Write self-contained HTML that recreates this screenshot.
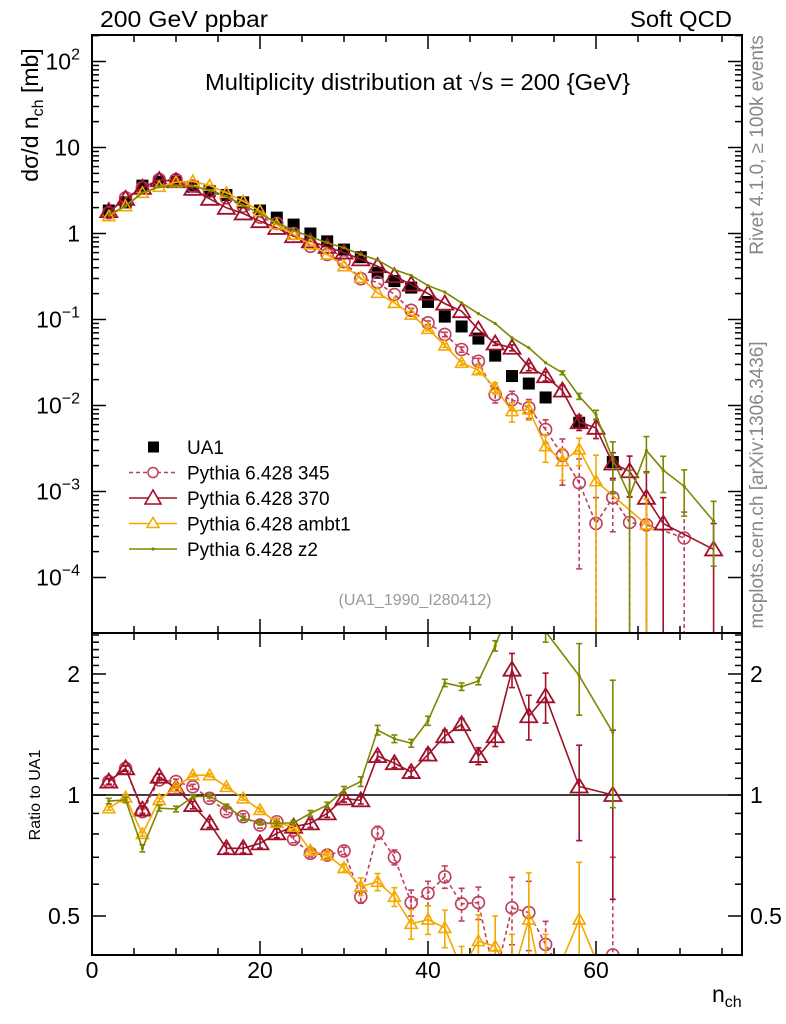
<!DOCTYPE html>
<html><head><meta charset="utf-8">
<style>
html,body{margin:0;padding:0;background:#fff;overflow:hidden;width:786px;height:1024px;}
svg{display:block;font-family:"Liberation Sans",Arial,sans-serif;}
</style></head>
<body>
<svg id="chart" width="786" height="1024" viewBox="0 0 786 1024" xmlns="http://www.w3.org/2000/svg">
  <defs>
    <clipPath id="clipMain"><rect x="92" y="35" width="650" height="598"/></clipPath>
    <clipPath id="clipRatio"><rect x="92" y="633" width="650" height="322"/></clipPath>
  </defs>
  <g id="axes"></g>
  <g id="mainMarks" clip-path="url(#clipMain)"></g>
  <g id="ratioMarks" clip-path="url(#clipRatio)"></g>
  <rect x="92" y="35" width="650" height="598" fill="none" stroke="#000" stroke-width="2"/>
  <rect x="92" y="633" width="650" height="322" fill="none" stroke="#000" stroke-width="2"/>
  <text x="100" y="27" font-size="23" textLength="168" lengthAdjust="spacingAndGlyphs">200 GeV ppbar</text>
  <text x="630" y="27" font-size="23" textLength="102" lengthAdjust="spacingAndGlyphs">Soft QCD</text>
  <text x="205" y="90" font-size="23" textLength="425" lengthAdjust="spacingAndGlyphs">Multiplicity distribution at √s = 200 {GeV}</text>
  <text transform="translate(38,115) rotate(-90)" font-size="23" text-anchor="middle">dσ/d n<tspan font-size="16" dy="5">ch</tspan><tspan dy="-5"> [mb]</tspan></text>
  <text transform="translate(40,795) rotate(-90)" font-size="16" text-anchor="middle">Ratio to UA1</text>
  <text x="712" y="1002" font-size="23">n<tspan font-size="16" dy="5">ch</tspan></text>
  <text transform="translate(763,145) rotate(-90)" font-size="19" fill="#888" text-anchor="middle">Rivet 4.1.0, ≥ 100k events</text>
  <text transform="translate(763,485) rotate(-90)" font-size="19" fill="#888" text-anchor="middle">mcplots.cern.ch [arXiv:1306.3436]</text>
  <text x="415" y="605" font-size="16" fill="#999" text-anchor="middle">(UA1_1990_I280412)</text>
  <g id="legend"></g>
</svg>
<script>
// ---- data ----
const ua1N = [2,4,6,8,10,12,14,16,18,20,22,24,26,28,30,32,34,36,38,40,42,44,46,48,50,52,54,58,62];
const ua1V = [1.85,2.3,3.6,4.0,4.0,3.5,3.1,2.8,2.3,1.85,1.53,1.27,1.0,0.81,0.65,0.53,0.35,0.28,0.235,0.16,0.108,0.083,0.060,0.038,0.022,0.018,0.0124,0.0063,0.0022];

const p345N = [2,4,6,8,10,12,14,16,18,20,22,24,26,28,30,32,34,36,38,40,42,44,46,48,50,52,54,56,58,60,62,64,66,70.5];
const p345V = [1.74,2.60,3.40,4.24,4.24,3.55,3.10,2.60,2.08,1.55,1.31,1.0,0.71,0.57,0.47,0.298,0.271,0.195,0.128,0.0914,0.067,0.0448,0.0327,0.0134,0.0117,0.0094,0.00525,0.00263,0.00126,0.000425,0.00085,0.000436,0.00041,0.000288];
const p345E = [0,0,0,0,0,0,0,0,0,0,0,0,0,0,0.02,0.03,0.03,0.04,0.05,0.05,0.06,0.07,0.08,0.2,0.25,0.25,0.3,0.55,0.9,1,0.6,1,1,1];

const p370N = [2,4,6,8,10,12,14,16,18,20,22,24,26,28,30,32,34,36,38,40,42,44,46,48,50,52,54,56,58,60,62,64,66,68,74];
const p370V = [1.82,2.53,3.40,4.17,4.06,3.31,2.53,1.99,1.71,1.39,1.16,0.93,0.81,0.70,0.60,0.50,0.417,0.319,0.255,0.20,0.153,0.125,0.0765,0.0526,0.0469,0.0282,0.0219,0.0149,0.0064,0.0055,0.00212,0.00172,0.000845,0.000424,0.000212];
const p370E = [0,0,0,0,0,0,0,0,0,0,0,0,0,0,0.01,0.01,0.02,0.02,0.02,0.03,0.03,0.03,0.04,0.05,0.08,0.1,0.12,0.15,0.2,0.25,0.33,0.5,1,1,1];

const pAmbN = [2,4,6,8,10,12,14,16,18,20,22,24,26,28,30,32,34,36,38,40,42,44,46,48,50,52,54,56,58,60,66];
const pAmbV = [1.59,2.08,2.97,3.49,3.95,4.06,3.61,2.97,2.37,1.82,1.27,0.97,0.745,0.57,0.417,0.305,0.204,0.156,0.114,0.0778,0.0499,0.0313,0.0257,0.016,0.0086,0.0090,0.00336,0.00225,0.00308,0.00132,0.000413];
const pAmbE = [0,0,0,0,0,0,0,0,0,0,0,0,0,0,0.01,0.02,0.03,0.03,0.04,0.05,0.05,0.06,0.08,0.15,0.25,0.25,0.35,0.4,0.35,1,1];

const pZ2N = [2,4,6,8,10,12,14,16,18,20,22,24,26,28,30,32,34,36,38,40,42,44,46,48,50,52,54,56,58,60,62,64,66,68,70.5,74];
const pZ2V = [1.66,2.08,2.97,3.49,3.61,3.55,3.19,2.72,2.13,1.71,1.33,1.09,0.915,0.78,0.68,0.57,0.49,0.38,0.325,0.248,0.208,0.156,0.117,0.0898,0.0612,0.0469,0.0314,0.024,0.0128,0.00785,0.00236,0.000883,0.0030,0.00177,0.00115,0.000452];
const pZ2E = [0,0,0,0,0,0,0,0,0,0,0,0,0,0,0.01,0.01,0.02,0.02,0.02,0.02,0.03,0.03,0.03,0.03,0.03,0.04,0.04,0.05,0.08,0.12,0.6,1,0.45,0.45,0.55,0.7];

// ratios to UA1 (at ua1N)
const r345 = [1.08,1.165,0.909,1.09,1.08,1.048,0.981,0.909,0.883,0.842,0.858,0.776,0.716,0.709,0.726,0.558,0.806,0.70,0.54,0.57,0.626,0.536,0.54,0.35,0.524,0.51,0.425,0.2,0.40];
const r345E = [0.015,0.015,0.015,0.015,0.015,0.015,0.015,0.015,0.015,0.015,0.015,0.015,0.015,0.015,0.015,0.02,0.03,0.03,0.04,0.04,0.04,0.05,0.05,0.06,0.1,0.1,0.06,0.2,0.3];
const r370 = [1.08,1.165,0.92,1.11,1.04,0.944,0.85,0.737,0.737,0.758,0.803,0.834,0.85,0.90,0.98,0.97,1.25,1.20,1.14,1.26,1.40,1.50,1.25,1.40,2.05,1.57,1.76,1.05,1.0];
const r370E = [0.02,0.02,0.02,0.02,0.02,0.02,0.02,0.02,0.02,0.02,0.02,0.02,0.02,0.02,0.02,0.02,0.03,0.03,0.03,0.04,0.05,0.05,0.06,0.08,0.2,0.2,0.25,0.28,0.45];
const rAmb = [0.927,0.987,0.80,0.972,1.048,1.12,1.12,1.048,0.981,0.918,0.853,0.834,0.727,0.709,0.658,0.592,0.608,0.558,0.478,0.49,0.467,0.37,0.433,0.42,0.35,0.49,0.3,0.49,0.2];
const rAmbE = [0.01,0.01,0.01,0.01,0.01,0.01,0.01,0.01,0.01,0.01,0.01,0.01,0.01,0.01,0.015,0.03,0.03,0.03,0.04,0.04,0.05,0.05,0.07,0.08,0.1,0.15,0.15,0.19,0.2];
const rZ2 = [0.966,0.972,0.737,0.927,0.923,0.99,0.994,0.939,0.875,0.853,0.85,0.853,0.90,0.944,1.03,1.08,1.45,1.38,1.345,1.53,1.90,1.86,1.92,2.35,3.0,3.2,2.55,1.98,1.43];
const rZ2E = [0.015,0.015,0.015,0.015,0.015,0.01,0.01,0.01,0.01,0.01,0.01,0.01,0.015,0.015,0.02,0.03,0.04,0.03,0.03,0.04,0.04,0.04,0.04,0.07,0.1,0.1,0.15,0.4,0.5];

const xTicks = [0,20,40,60];
const mainDecades = [-4,-3,-2,-1,0,1,2];
const ratioTicks = [0.5,1,2];

// ---- scales ----
function X(n){ return 92 + 8.4*n; }
function Y(v){ return 233.5 - 86*Math.log10(Math.max(v,1e-12)); }
function R(r){ return 795 - 402*Math.log10(Math.max(r,1e-12)); }

const NS = "http://www.w3.org/2000/svg";
function mk(tag, attrs, parent){ const e=document.createElementNS(NS,tag); for(const k in attrs) e.setAttribute(k,attrs[k]); parent.appendChild(e); return e; }

const axes = document.getElementById('axes');
for(let n=5;n<78;n+=5){
  const big = n%20===0;
  const L = big?14:7;
  const t1 = mk('line',{x1:X(n),x2:X(n),y1:35,y2:35+L,stroke:'#000','stroke-width':1.5},axes);
  
  
  const t2 = mk('line',{x1:X(n),x2:X(n),y1:633,y2:633-L,stroke:'#000','stroke-width':1.5},axes);
  
  
  const t3 = mk('line',{x1:X(n),x2:X(n),y1:633,y2:633+L,stroke:'#000','stroke-width':1.5},axes);
  
  
  const t4 = mk('line',{x1:X(n),x2:X(n),y1:955,y2:955-L,stroke:'#000','stroke-width':1.5},axes);
  
  
}
xTicks.forEach(n=>{
  const t = mk('text',{x:X(n),y:978,'font-size':23,'text-anchor':'middle'},axes);
  t.textContent = n;
  
  
});
mainDecades.forEach(d=>{
  for(let m=1;m<10;m++){
    const y = Y(m*Math.pow(10,d));
    if(y<35||y>633) continue;
    const L = m===1?14:7;
    const a = mk('line',{x1:92,x2:92+L,y1:y,y2:y,stroke:'#000','stroke-width':1.5},axes);
    
    
    const b = mk('line',{x1:742,x2:742-L,y1:y,y2:y,stroke:'#000','stroke-width':1.5},axes);
    
    
  }
  const y = Y(Math.pow(10,d));
  const t = mk('text',{x:80,y:y+8,'font-size':23,'text-anchor':'end'},axes);
  if(d===0){ t.textContent='1'; }
  else if(d===1){ t.textContent='10'; }
  else { t.textContent='10'; const s=mk('tspan',{dy:-10,'font-size':16},t); s.textContent=String(d).replace('-','−'); }
  
  
});
for(let i=4;i<=25;i++){
  const r=i/10, y=R(r);
  if(y<633||y>955) continue;
  const big = (i===5||i===10||i===20);
  const L = big?14:7;
  const a = mk('line',{x1:92,x2:92+L,y1:y,y2:y,stroke:'#000','stroke-width':1.5},axes);
  
  
  const b = mk('line',{x1:742,x2:742-L,y1:y,y2:y,stroke:'#000','stroke-width':1.5},axes);
  
  
}
ratioTicks.forEach(r=>{
  const t = mk('text',{x:80,y:R(r)+8,'font-size':23,'text-anchor':'end'},axes);
  t.textContent = r;
  
  
  const t2 = mk('text',{x:750,y:R(r)+8,'font-size':23},axes);
  t2.textContent = r;
  
  
});
const one = mk('line',{x1:92,x2:742,y1:R(1),y2:R(1),stroke:'#000','stroke-width':1.5},document.getElementById('ratioMarks'));



// ---- marks ----
function marker(type,color,x,y,g){
  let e;
  if(type==='square'){ e=mk('rect',{x:x-6,y:y-6,width:12,height:12,fill:'#000'},g); }
  else if(type==='circle'){ e=mk('circle',{cx:x,cy:y,r:6,fill:'none',stroke:color,'stroke-width':1.6},g); }
  else if(type==='tri'){ e=mk('polygon',{points:`${x},${y-8} ${x-8.5},${y+6} ${x+8.5},${y+6}`,fill:'none',stroke:color,'stroke-width':1.8},g); }
  else if(type==='tris'){ e=mk('polygon',{points:`${x},${y-6} ${x-6},${y+4.5} ${x+6},${y+4.5}`,fill:'none',stroke:color,'stroke-width':1.6},g); }
  else { e=mk('circle',{cx:x,cy:y,r:1.6,fill:color},g); }
  return e;
}
const YMAX = 960;
function series(g,ns,ys,errs,yfun,abs,color,type,dash,name){
  const grp = mk('g',{},g);
  
  
  if(type!=='square'){
    const pts = ns.map((n,i)=>X(n)+','+Math.min(yfun(ys[i]),YMAX+40)).join(' ');
    const pl = mk('polyline',{points:pts,fill:'none',stroke:color,'stroke-width':1.6},grp);
    if(dash) pl.setAttribute('stroke-dasharray','4,3');
    
    
  }
  ns.forEach((n,i)=>{
    const v=ys[i];
    const e = errs ? (abs? errs[i] : errs[i]*v) : 0;
    if(e>0){
      const ytop=yfun(v+e), ybot=Math.min(yfun(v-e>0?v-e:1e-12),YMAX);
      if(ybot-ytop>3){
        const el = mk('line',{x1:X(n),x2:X(n),y1:ytop,y2:ybot,stroke:color,'stroke-width':1.6},grp);
        if(dash) el.setAttribute('stroke-dasharray','4,3');
        
        
        const c1 = mk('line',{x1:X(n)-3,x2:X(n)+3,y1:ytop,y2:ytop,stroke:color,'stroke-width':1.6},grp);
        
        
        const c2 = mk('line',{x1:X(n)-3,x2:X(n)+3,y1:ybot,y2:ybot,stroke:color,'stroke-width':1.6},grp);
        
        
      }
    }
    const yy = yfun(v);
    if(yy > YMAX+10) return;
    const m = marker(type,color,X(n),yy,grp);
    
    
  });
}
const C345='#c0405c', C370='#a0102a', CAMB='#f5a800', CZ2='#7f8700';
const gm=document.getElementById('mainMarks');
series(gm,ua1N,ua1V,null,Y,false,'#000','square',false,'ua1-data');
series(gm,p345N,p345V,p345E,Y,false,C345,'circle',true,'pythia-345');
series(gm,p370N,p370V,p370E,Y,false,C370,'tri',false,'pythia-370');
series(gm,pAmbN,pAmbV,pAmbE,Y,false,CAMB,'tris',false,'pythia-ambt1');
series(gm,pZ2N,pZ2V,pZ2E,Y,false,CZ2,'dot',false,'pythia-z2');
const gr=document.getElementById('ratioMarks');
series(gr,ua1N,r345,r345E,R,true,C345,'circle',true,'ratio-345');
series(gr,ua1N,r370,r370E,R,true,C370,'tri',false,'ratio-370');
series(gr,ua1N,rAmb,rAmbE,R,true,CAMB,'tris',false,'ratio-ambt1');
series(gr,ua1N,rZ2,rZ2E,R,true,CZ2,'dot',false,'ratio-z2');

// ---- legend ----
const leg=document.getElementById('legend');
const entries=[['UA1','#000','square',false],['Pythia 6.428 345',C345,'circle',true],['Pythia 6.428 370',C370,'tri',false],['Pythia 6.428 ambt1',CAMB,'tris',false],['Pythia 6.428 z2',CZ2,'dot',false]];
entries.forEach((en,i)=>{
  const y=447+i*25.5;
  const g=mk('g',{},leg);
  
  
  if(en[2]!=='square'){
    const l=mk('line',{x1:129,x2:177,y1:y,y2:y,stroke:en[1],'stroke-width':1.6},g);
    if(en[3]) l.setAttribute('stroke-dasharray','4,3');
  }
  if(en[2]==='square') mk('rect',{x:148,y:y-5.5,width:11,height:11,fill:'#000'},g);
  else if(en[2]==='circle') mk('circle',{cx:153,cy:y,r:5,fill:'#fff',stroke:en[1],'stroke-width':1.5},g);
  else if(en[2]==='tri') mk('polygon',{points:`153,${y-8} 145,${y+6} 161,${y+6}`,fill:'#fff',stroke:en[1],'stroke-width':1.6},g);
  else if(en[2]==='tris') mk('polygon',{points:`153,${y-6} 147,${y+4} 159,${y+4}`,fill:'#fff',stroke:en[1],'stroke-width':1.5},g);
  else mk('circle',{cx:153,cy:y,r:1.6,fill:en[1]},g);
  const t=mk('text',{x:187,y:y+7,'font-size':19},g);
  t.textContent=en[0];
});
</script>
</body></html>
